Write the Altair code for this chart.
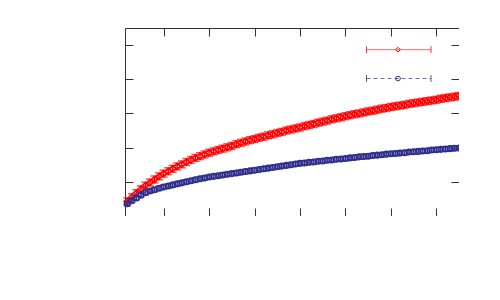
import altair as alt
import pandas as pd

# ---- data ----
x_vals = [0.2, 0.3, 0.4, 0.5, 0.6, 0.7, 0.8, 0.9, 1.0, 1.1, 1.2, 1.3, 1.4, 1.5, 1.6, 1.7,
          1.8, 1.9, 2.0, 2.1, 2.2, 2.3, 2.4, 2.5, 2.6, 2.7, 2.8, 2.9, 3.0, 3.1, 3.2, 3.3,
          3.4, 3.5, 3.6, 3.7, 3.8, 3.9, 4.0, 4.1, 4.2, 4.3, 4.4, 4.5, 4.6, 4.7, 4.8, 4.9,
          5.0, 5.1, 5.2, 5.3, 5.4, 5.5, 5.6, 5.7, 5.8, 5.9, 6.0, 6.1, 6.2, 6.3, 6.4, 6.5,
          6.6, 6.7, 6.8, 6.9, 7.0, 7.1, 7.2, 7.3, 7.4, 7.5]

red_y = [0.43, 0.55, 0.67, 0.78, 0.89, 0.98, 1.07, 1.16, 1.24, 1.31, 1.38, 1.45, 1.51, 1.58,
         1.64, 1.70, 1.75, 1.80, 1.85, 1.89, 1.93, 1.97, 2.01, 2.05, 2.10, 2.14, 2.18, 2.22,
         2.25, 2.29, 2.32, 2.36, 2.39, 2.43, 2.46, 2.50, 2.53, 2.56, 2.59, 2.63, 2.66, 2.69,
         2.73, 2.76, 2.79, 2.83, 2.86, 2.89, 2.92, 2.95, 2.98, 3.00, 3.03, 3.06, 3.08, 3.11,
         3.14, 3.16, 3.19, 3.21, 3.23, 3.25, 3.28, 3.30, 3.32, 3.34, 3.36, 3.38, 3.40, 3.43,
         3.45, 3.47, 3.49, 3.51]

blue_y = [0.36, 0.45, 0.53, 0.61, 0.68, 0.73, 0.77, 0.81, 0.85, 0.88, 0.91, 0.94, 0.97, 1.00,
          1.03, 1.06, 1.09, 1.11, 1.14, 1.16, 1.18, 1.20, 1.22, 1.24, 1.26, 1.28, 1.30, 1.32,
          1.34, 1.36, 1.38, 1.40, 1.42, 1.44, 1.46, 1.48, 1.50, 1.52, 1.54, 1.55, 1.57, 1.58,
          1.60, 1.61, 1.63, 1.64, 1.66, 1.67, 1.68, 1.70, 1.71, 1.73, 1.74, 1.75, 1.77, 1.78,
          1.79, 1.81, 1.82, 1.83, 1.84, 1.85, 1.87, 1.88, 1.89, 1.90, 1.91, 1.93, 1.94, 1.95,
          1.96, 1.97, 1.98, 1.99]

red_err = 0.1
blue_err = 0.06

x_ticks = [1, 2, 3, 4, 5, 6, 7]
y_ticks = [1, 2, 3, 4, 5]
x_domain = [0.15, 7.5]
y_domain = [0, 5.5]

RED = "#ff0000"
BLUE = "#2e2e8c"
FRAME = "#333333"

xs = alt.Scale(domain=x_domain, nice=False, zero=False)
ys = alt.Scale(domain=y_domain, nice=False, zero=False)


def ax(orient, values):
    return alt.Axis(orient=orient, values=values, labels=False, title=None, domain=False,
                    grid=False, ticks=True, tickSize=8, offset=-8, tickColor=FRAME,
                    tickWidth=1)


def series(y_list, err, color, shape, size, cap, sw, xaxis, yaxis):
    df = pd.DataFrame({
        "x": x_vals,
        "y": y_list,
        "lo": [v - err for v in y_list],
        "hi": [v + err for v in y_list],
    })
    base = alt.Chart(df)
    bars = base.mark_rule(color=color, strokeWidth=sw).encode(
        x=alt.X("x:Q", scale=xs, axis=xaxis),
        y=alt.Y("lo:Q", scale=ys, axis=yaxis),
        y2="hi:Q",
    )
    cap_lo = base.mark_tick(color=color, orient="horizontal", size=cap, thickness=sw).encode(
        x=alt.X("x:Q", scale=xs, axis=None), y=alt.Y("lo:Q", scale=ys, axis=None))
    cap_hi = base.mark_tick(color=color, orient="horizontal", size=cap, thickness=sw).encode(
        x=alt.X("x:Q", scale=xs, axis=None), y=alt.Y("hi:Q", scale=ys, axis=None))
    pts = base.mark_point(color=color, shape=shape, size=size, filled=False,
                          strokeWidth=sw, opacity=1).encode(
        x=alt.X("x:Q", scale=xs, axis=None), y=alt.Y("y:Q", scale=ys, axis=None))
    return [bars, cap_lo, cap_hi, pts]


red_layers = series(red_y, red_err, RED, "diamond", 40, 8, 1.5,
                    ax("bottom", x_ticks), ax("left", y_ticks))
blue_layers = series(blue_y, blue_err, BLUE, "circle", 30, 7, 1.6,
                     ax("top", x_ticks), ax("right", y_ticks))

# ---- key samples (no text in the reference) ----
one = pd.DataFrame({"k": [0]})
key = []
for ky, col, dash, shp in [(21.7, RED, [1, 0], "diamond"), (50.5, BLUE, [4, 3], "circle")]:
    key.append(alt.Chart(one).mark_rule(color=col, strokeWidth=1, strokeDash=dash, opacity=0.7).encode(
        x=alt.value(241.5), x2=alt.value(306), y=alt.value(ky)))
    key.append(alt.Chart(one).mark_rule(color=col, strokeWidth=1, opacity=0.8).encode(
        x=alt.value(241.5), y=alt.value(ky - 3.5), y2=alt.value(ky + 3.5)))
    key.append(alt.Chart(one).mark_rule(color=col, strokeWidth=1, opacity=0.8).encode(
        x=alt.value(306), y=alt.value(ky - 3.5), y2=alt.value(ky + 3.5)))
    key.append(alt.Chart(one).mark_point(color=col, shape=shp, size=22, filled=False,
                                         strokeWidth=1, opacity=1).encode(
        x=alt.value(273), y=alt.value(ky)))

chart = alt.layer(*red_layers, *blue_layers, *key).resolve_axis(
    x="independent", y="independent"
).properties(
    width=334, height=188,
    padding={"left": 117, "top": 20, "right": 0, "bottom": 0},
    autosize="none",
    background="white",
).configure_view(stroke=FRAME, strokeWidth=1)

chart.save("out.html", embed_options={"renderer": "svg", "actions": False})
